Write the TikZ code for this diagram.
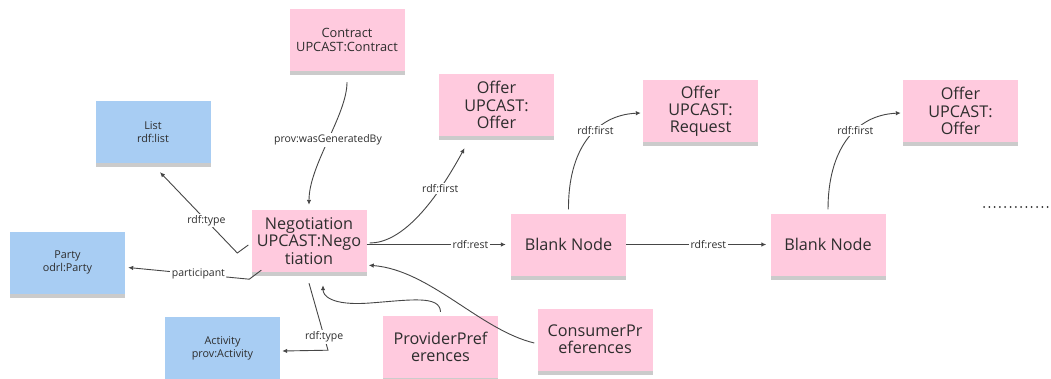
\documentclass[tikz,border=0pt]{standalone}
\usepackage{fontspec}
\setmainfont{Open Sans}
\usetikzlibrary{arrows.meta,calc,shadows}
\definecolor{notepink}{RGB}{255,202,222}
\definecolor{noteblue}{RGB}{168,205,243}
\definecolor{txt}{RGB}{45,45,45}
\definecolor{edgecol}{RGB}{70,70,70}
\begin{document}
\begin{tikzpicture}[x=1pt,y=-1pt,
 note/.style={rectangle, minimum width=115pt, minimum height=62pt, inner sep=2pt, align=center, text=txt,
   drop shadow={shadow xshift=0pt, shadow yshift=-4pt, opacity=0.25, fill=black!80}},
 pinkbig/.style={note, fill=notepink, font=\fontsize{16.2}{17.2}\selectfont},
 pinksmall/.style={note, fill=notepink, font=\fontsize{12.8}{14}\selectfont},
 bluenote/.style={note, fill=noteblue, font=\fontsize{10.8}{12.7}\selectfont},
 conn/.style={draw=edgecol, line width=0.9pt, -{Latex[length=5pt,width=4.5pt]}},
 lbl/.style={fill=white, inner sep=1.5pt, text=txt, font=\fontsize{10.5}{12}\selectfont},
]
\fill[white] (0,0) rectangle (1051,378);
\useasboundingbox (0,0) rectangle (1051,378);

% nodes
\node[pinksmall] (contract) at (347,40) {Contract\\UPCAST:Contract};
\node[bluenote] (list) at (153,132) {List\\rdf:list};
\node[bluenote] (party) at (67.5,262.5) {Party\\odrl:Party};
\node[bluenote] (activity) at (222.5,348) {Activity\\prov:Activity};
\node[pinkbig] (neg) at (309,241) {Negotiation\\UPCAST:Nego\\tiation};
\node[pinkbig] (offer1) at (496.5,105) {Offer\\UPCAST:\\Offer};
\node[pinkbig] (offreq) at (700.5,111) {Offer\\UPCAST:\\Request};
\node[pinkbig] (offer3) at (960.5,111) {Offer\\UPCAST:\\Offer};
\node[pinkbig] (blank1) at (568.5,244.5) {Blank Node};
\node[pinkbig] (blank2) at (828,244.5) {Blank Node};
\node[pinkbig] (prov) at (440.5,347) {ProviderPref\\erences};
\node[pinkbig] (cons) at (595,339.5) {ConsumerPr\\eferences};

% connectors
\draw[conn, shorten <=11pt, shorten >=5pt] (contract.south) .. controls (347,115) and (309,165) .. (neg.north)
  node[lbl, pos=0.5] {prov:wasGeneratedBy};

\draw[conn] (neg.west) ++(-3,4) -- ++(-11,8) -- ($(list.south)+(7,9)$)
  node[lbl, pos=0.4] {rdf:type};

\draw[conn] (neg.south west) ++(10,-2) -- ++(-12,9) -- ($(party.east)+(3,5)$)
  node[lbl, pos=0.42] {participant};

\draw[conn] (neg.south) ++(0,11) -- ++(19,67) node[lbl, pos=0.8] {rdf:type} -- ($(activity.east)+(2,3)$);

\draw[conn] (neg.east) ++(3,2) .. controls (400,243) and (432,208) .. ($(offer1.south)+(-32,12)$)
  node[lbl, pos=0.75] {rdf:first};

\draw[conn, shorten >=5pt] (neg.east |- blank1.west) -- (blank1.west)
  node[lbl, pos=0.72] {rdf:rest};

\draw[conn] (blank1.north) ++(0,-4) .. controls (568,150) and (595,115) .. ($(offreq.west)+(-2,2)$)
  node[lbl, pos=0.6] {rdf:first};

\draw[conn, shorten >=4pt] (blank1.east) -- (blank2.west)
  node[lbl, pos=0.57] {rdf:rest};

\draw[conn] (blank2.north) ++(0,-4) .. controls (828,150) and (855,115) .. ($(offer3.west)+(-2,2)$)
  node[lbl, pos=0.6] {rdf:first};

\draw[conn] (prov.north) ++(0,-4) .. controls (440,295) and (410,300) .. (370,303)
  .. controls (330,306) and (323,295) .. ($(neg.south)+(14,13)$);

\draw[conn] (cons.west) ++(-3,3.5) .. controls (480,330) and (430,270) .. ($(neg.south east)+(2,-7)$);

% continuation dots
\draw[line width=2pt, line cap=round, dash pattern=on 0pt off 5.3pt, txt] (984,207) -- (1051,207);
\end{tikzpicture}
\end{document}
